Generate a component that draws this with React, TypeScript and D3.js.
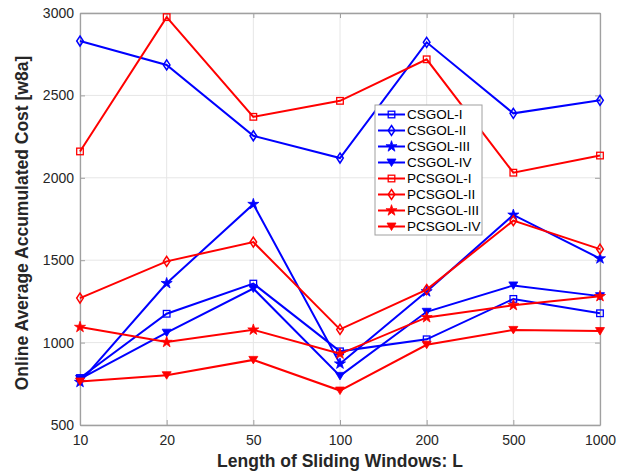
import React, { useRef, useEffect } from "react";
import * as d3 from "d3";

const W = 621;
const H = 472;
const MARGIN = { top: 13, right: 21, bottom: 47, left: 80 };
const FONT = "Liberation Sans, Arial, sans-serif";

const windows = ["10", "20", "50", "100", "200", "500", "1000"];
const yTicks = [500, 1000, 1500, 2000, 2500, 3000];

const csgol1 = [785, 1175, 1358, 947, 1020, 1265, 1178];
const csgol2 = [2830, 2685, 2255, 2120, 2822, 2391, 2470];
const csgol3 = [760, 1360, 1840, 872, 1310, 1775, 1510];
const csgol4 = [780, 1060, 1328, 798, 1187, 1347, 1282];
const pcsgol1 = [2160, 2975, 2370, 2467, 2719, 2031, 2135];
const pcsgol2 = [1270, 1493, 1610, 1080, 1322, 1740, 1567];
const pcsgol3 = [1094, 1003, 1078, 932, 1153, 1227, 1281];
const pcsgol4 = [764, 802, 895, 709, 987, 1077, 1070];

const BLUE = "#0000ff";
const RED = "#ff0000";

const series = [
  { name: "CSGOL-I", values: csgol1, color: BLUE, marker: "square" },
  { name: "CSGOL-II", values: csgol2, color: BLUE, marker: "diamond" },
  { name: "CSGOL-III", values: csgol3, color: BLUE, marker: "star" },
  { name: "CSGOL-IV", values: csgol4, color: BLUE, marker: "triangle" },
  { name: "PCSGOL-I", values: pcsgol1, color: RED, marker: "square" },
  { name: "PCSGOL-II", values: pcsgol2, color: RED, marker: "diamond" },
  { name: "PCSGOL-III", values: pcsgol3, color: RED, marker: "star" },
  { name: "PCSGOL-IV", values: pcsgol4, color: RED, marker: "triangle" },
];

// draw a marker centred on (0,0) into a selection
function drawMarker(g: any, type: string, color: string) {
  if (type === "square") {
    g.append("rect")
      .attr("x", -3.3)
      .attr("y", -3.3)
      .attr("width", 6.6)
      .attr("height", 6.6)
      .attr("fill", "none")
      .attr("stroke", color)
      .attr("stroke-width", 1.3);
  } else if (type === "diamond") {
    g.append("path")
      .attr("d", "M0,-5L3.3,0L0,5L-3.3,0Z")
      .attr("fill", "none")
      .attr("stroke", color)
      .attr("stroke-width", 1.5);
  } else if (type === "star") {
    g.append("path")
      .attr("d", d3.symbol(d3.symbolStar, 38)() as string)
      .attr("fill", color)
      .attr("stroke", color)
      .attr("stroke-width", 0.8);
  } else {
    g.append("path")
      .attr("d", "M-4.5,-3.5L4.5,-3.5L0,4Z")
      .attr("fill", color)
      .attr("stroke", color)
      .attr("stroke-width", 0.8);
  }
}

export default function App() {
  const svgRef = useRef<SVGSVGElement>(null);

  useEffect(() => {
    const svg = d3.select(svgRef.current);
    svg.selectAll("*").remove();

    const innerW = W - MARGIN.left - MARGIN.right;
    const innerH = H - MARGIN.top - MARGIN.bottom;

    const x = d3.scalePoint().domain(windows).range([0, innerW]);
    const y = d3.scaleLinear().domain([500, 3000]).range([innerH, 0]);

    svg.append("rect").attr("width", W).attr("height", H).attr("fill", "#fff");

    const g = svg
      .append("g")
      .attr("transform", `translate(${MARGIN.left},${MARGIN.top})`);

    // Grid
    g.append("g")
      .selectAll("line")
      .data(windows)
      .join("line")
      .attr("x1", (d) => x(d)!)
      .attr("x2", (d) => x(d)!)
      .attr("y1", 0)
      .attr("y2", innerH)
      .attr("stroke", "#e6e6e6")
      .attr("stroke-width", 1);
    g.append("g")
      .selectAll("line")
      .data(yTicks)
      .join("line")
      .attr("x1", 0)
      .attr("x2", innerW)
      .attr("y1", (d) => y(d))
      .attr("y2", (d) => y(d))
      .attr("stroke", "#e6e6e6")
      .attr("stroke-width", 1);

    // Axes (MATLAB style box, ticks inward)
    const axisStyle = (sel: any) => {
      sel.select(".domain").attr("stroke", "#a0a0a0").attr("stroke-width", 1.3);
      sel.selectAll(".tick line").attr("stroke", "#a0a0a0");
      sel
        .selectAll("text")
        .attr("font-family", FONT)
        .attr("font-size", 14)
        .attr("fill", "#262626");
    };

    g.append("g")
      .attr("transform", `translate(0,${innerH})`)
      .call(d3.axisBottom(x).tickSize(-5).tickSizeOuter(0).tickPadding(10))
      .call(axisStyle);
    g.append("g")
      .call(d3.axisTop(x).tickSize(-5).tickSizeOuter(0).tickFormat(() => ""))
      .call(axisStyle);
    g.append("g")
      .call(
        d3
          .axisLeft(y)
          .tickValues(yTicks)
          .tickFormat(d3.format("d"))
          .tickSize(-5)
          .tickSizeOuter(0)
          .tickPadding(6)
      )
      .call(axisStyle);
    g.append("g")
      .attr("transform", `translate(${innerW},0)`)
      .call(
        d3.axisRight(y).tickValues(yTicks).tickSize(-5).tickSizeOuter(0).tickFormat(() => "")
      )
      .call(axisStyle);

    // Lines
    const line = d3
      .line<number>()
      .x((_, i) => x(windows[i])!)
      .y((d) => y(d));

    series.forEach((s) => {
      g.append("path")
        .datum(s.values)
        .attr("d", line)
        .attr("fill", "none")
        .attr("stroke", s.color)
        .attr("stroke-width", 2);
      s.values.forEach((v, i) => {
        const m = g
          .append("g")
          .attr("transform", `translate(${x(windows[i])},${y(v)})`);
        drawMarker(m, s.marker, s.color);
      });
    });

    // Legend
    const lg = svg.append("g").attr("transform", "translate(375,105)");
    lg.append("rect")
      .attr("width", 107)
      .attr("height", 130)
      .attr("fill", "#fff")
      .attr("stroke", "#a0a0a0")
      .attr("stroke-width", 1);
    series.forEach((s, i) => {
      const row = lg.append("g").attr("transform", `translate(0,${9.5 + i * 16})`);
      row.append("line")
        .attr("x1", 3)
        .attr("x2", 30)
        .attr("stroke", s.color)
        .attr("stroke-width", 2);
      const m = row.append("g").attr("transform", "translate(16.5,0)");
      drawMarker(m, s.marker, s.color);
      row.append("text")
        .attr("x", 32)
        .attr("dy", "0.35em")
        .attr("font-family", FONT)
        .attr("font-size", 13.5)
        .attr("fill", "#000")
        .text(s.name);
    });

    // Axis labels
    svg.append("text")
      .attr("x", MARGIN.left + innerW / 2)
      .attr("y", 467)
      .attr("text-anchor", "middle")
      .attr("font-family", FONT)
      .attr("font-weight", "bold")
      .attr("font-size", 17.5)
      .attr("fill", "#262626")
      .text("Length of Sliding Windows: L");
    svg.append("text")
      .attr("transform", `translate(28,${MARGIN.top + innerH / 2 + 4}) rotate(-90)`)
      .attr("text-anchor", "middle")
      .attr("font-family", FONT)
      .attr("font-weight", "bold")
      .attr("font-size", 17.5)
      .attr("fill", "#262626")
      .text("Online Average Accumulated Cost [w8a]");
  }, []);

  return (
    <svg
      ref={svgRef}
      width={W}
      height={H}
      style={{ position: "absolute", left: 0, top: 0 }}
    />
  );
}
